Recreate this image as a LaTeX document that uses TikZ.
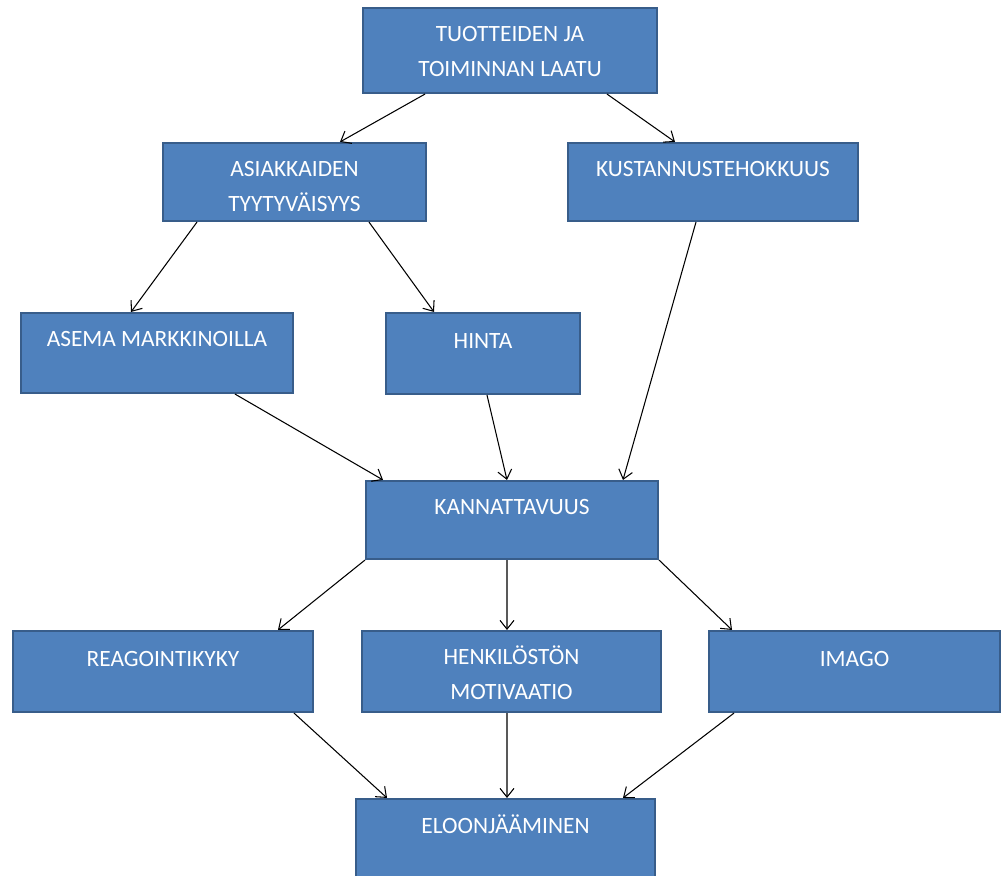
\documentclass[tikz,border=0pt]{standalone}
\usepackage{fontspec}
\setmainfont{Carlito}
\usetikzlibrary{arrows.meta,positioning,calc}
\definecolor{boxfill}{RGB}{79,129,189}
\definecolor{boxline}{RGB}{56,93,138}
\newcommand{\capstrut}{\rule{0pt}{12pt}}

\begin{document}
\begin{tikzpicture}[x=0.02cm,y=-0.02cm,
      b/.style={draw=boxline,fill=boxfill,line width=1.2pt,inner sep=0pt},
      t/.style={text=white,font=\fontsize{13.3}{19.6}\selectfont,align=center,inner sep=0pt,anchor=north},
      arr/.style={-{Straight Barb[length=5pt,width=8pt]},line width=0.6pt}]
  \useasboundingbox (0,0) rectangle (1002,876);
  % boxes
  \node[b,minimum width=5.88cm,minimum height=1.70cm] (laatu) at (510,50.5) {};
  \node[b,minimum width=5.26cm,minimum height=1.56cm] (tyytyv) at (294.5,182) {};
  \node[b,minimum width=5.80cm,minimum height=1.56cm] (kust) at (713,182) {};
  \node[b,minimum width=5.44cm,minimum height=1.60cm] (asema) at (157,353) {};
  \node[b,minimum width=3.88cm,minimum height=1.62cm] (hinta) at (483,353.5) {};
  \node[b,minimum width=5.84cm,minimum height=1.56cm] (kann) at (512,520) {};
  \node[b,minimum width=6.00cm,minimum height=1.62cm] (reag) at (163,671.5) {};
  \node[b,minimum width=5.98cm,minimum height=1.62cm] (motiv) at (511.5,671.5) {};
  \node[b,minimum width=5.82cm,minimum height=1.62cm] (imago) at (854.5,671.5) {};
  \node[b,minimum width=5.98cm,minimum height=1.62cm] (eloon) at (505.5,839.5) {};
  % texts
  \node[t] (laatu-t) at ([yshift=-7.6pt]laatu.north) {\capstrut TUOTTEIDEN JA\\TOIMINNAN LAATU};
  \node[t] (tyytyv-t) at ([yshift=-7.6pt]tyytyv.north) {\capstrut ASIAKKAIDEN\\TYYTYVÄISYYS};
  \node[t] (kust-t) at ([yshift=-7.6pt]kust.north) {\capstrut KUSTANNUSTEHOKKUUS};
  \node[t] (asema-t) at ([yshift=-7.6pt]asema.north) {\capstrut ASEMA MARKKINOILLA};
  \node[t] (hinta-t) at ([yshift=-8.5pt]hinta.north) {\capstrut HINTA};
  \node[t] (kann-t) at ([yshift=-7.6pt]kann.north) {\capstrut KANNATTAVUUS};
  \node[t] (reag-t) at ([yshift=-8.5pt]reag.north) {\capstrut REAGOINTIKYKY};
  \node[t] (motiv-t) at ([yshift=-7.6pt]motiv.north) {\capstrut HENKILÖSTÖN\\MOTIVAATIO};
  \node[t] (imago-t) at ([yshift=-8.5pt]imago.north) {\capstrut IMAGO};
  \node[t] (eloon-t) at ([yshift=-8pt]eloon.north) {\capstrut ELOONJÄÄMINEN};
  % arrows
  \draw[arr] ([xshift=-1.70cm]laatu.south) -- ([xshift=0.91cm]tyytyv.north);
  \draw[arr] ([xshift=1.94cm]laatu.south) -- ([xshift=-0.76cm]kust.north);
  \draw[arr] ([xshift=-1.95cm]tyytyv.south) -- ([xshift=-0.52cm]asema.north);
  \draw[arr] ([xshift=1.49cm]tyytyv.south) -- ([xshift=-0.98cm]hinta.north);
  \draw[arr] ([xshift=-0.34cm]kust.south) -- ([xshift=2.22cm]kann.north);
  \draw[arr] ([xshift=1.56cm]asema.south) -- ([xshift=-2.58cm]kann.north);
  \draw[arr] ([xshift=0.08cm]hinta.south) -- ([xshift=-0.10cm]kann.north);
  \draw[arr] (kann.south west) -- ([xshift=2.30cm]reag.north);
  \draw[arr] ([xshift=-0.10cm]kann.south) -- ([xshift=-0.09cm]motiv.north);
  \draw[arr] (kann.south east) -- ([xshift=-2.45cm]imago.north);
  \draw[arr] ([xshift=2.62cm]reag.south) -- ([xshift=-2.37cm]eloon.north);
  \draw[arr] ([xshift=-0.09cm]motiv.south) -- ([xshift=0.03cm]eloon.north);
  \draw[arr] ([xshift=-2.41cm]imago.south) -- ([xshift=2.35cm]eloon.north);
\end{tikzpicture}
\end{document}
